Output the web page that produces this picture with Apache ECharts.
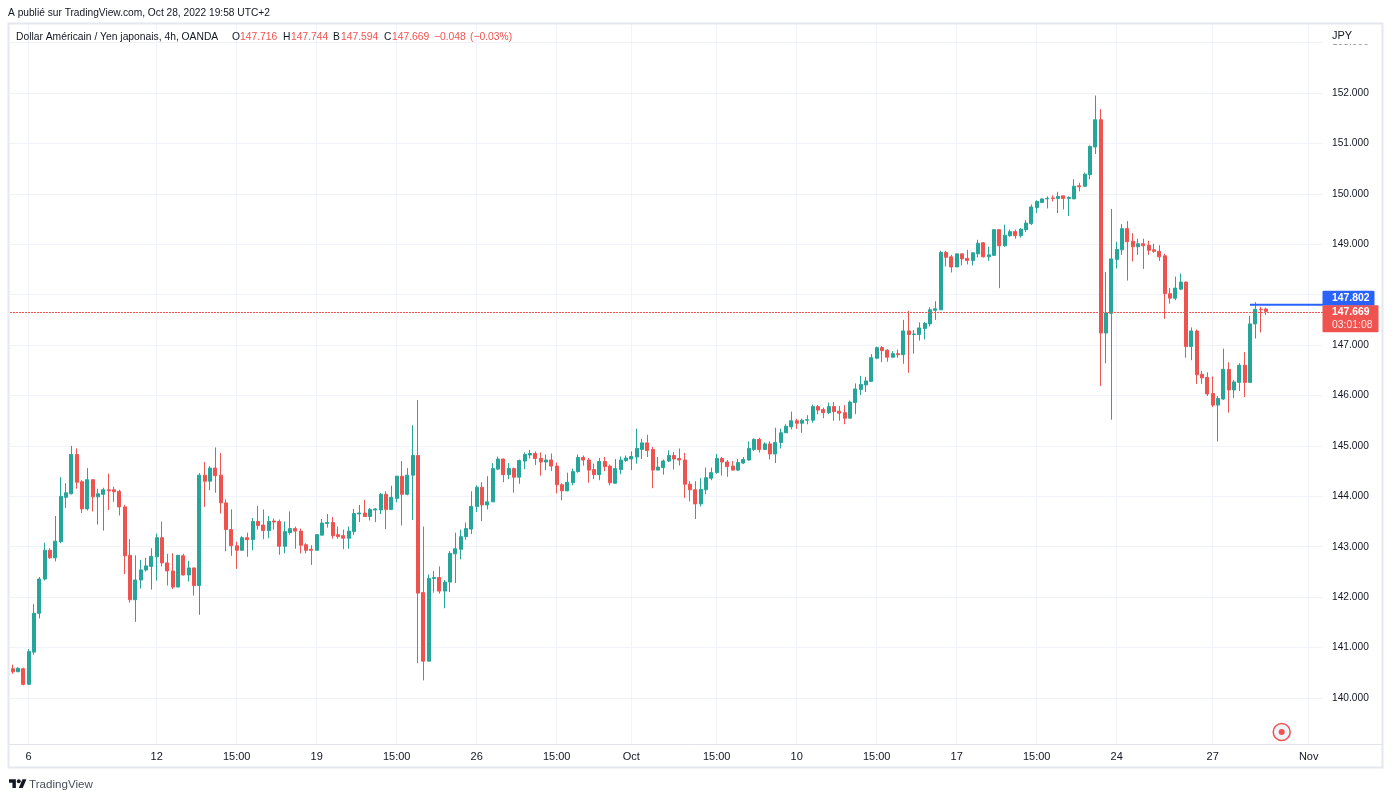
<!DOCTYPE html>
<html><head><meta charset="utf-8">
<style>html,body{margin:0;padding:0;background:#fff}#c{width:1392px;height:800px}</style>
<script src="https://cdn.jsdelivr.net/npm/echarts@6/dist/echarts.min.js"></script></head>
<body><div id="c"></div>
<script>
const opens=[140.58,140.52,140.58,140.27,140.91,141.68,142.36,142.93,142.78,143.10,
143.98,144.05,144.83,144.29,143.75,144.33,143.99,144.04,144.13,144.13,
144.10,143.79,142.83,141.95,142.34,142.54,142.61,142.80,143.18,142.68,
142.52,142.20,142.82,142.44,142.58,142.23,144.42,144.30,144.56,144.42,
143.87,143.34,143.02,142.93,143.18,143.14,143.50,143.43,143.32,143.51,
143.50,143.01,143.28,143.36,143.31,143.04,142.95,142.93,143.23,143.46,
143.48,143.24,143.22,143.17,143.30,143.65,143.67,143.60,143.73,143.73,
144.04,143.74,143.96,144.40,144.04,144.42,144.81,142.09,140.73,142.37,
142.39,142.12,142.30,142.86,142.95,143.20,143.35,143.80,144.18,143.83,
143.89,144.54,144.74,144.43,144.55,144.38,144.70,144.82,144.85,144.75,
144.68,144.72,144.60,144.23,144.11,144.27,144.49,144.77,144.72,144.53,
144.43,144.69,144.60,144.26,144.53,144.71,144.74,144.78,144.93,145.06,
144.93,144.52,144.57,144.70,144.81,144.75,144.72,144.24,144.13,143.85,
144.13,144.36,144.47,144.75,144.68,144.60,144.52,144.66,144.72,144.93,
145.13,144.93,145.04,144.84,145.07,145.26,145.38,145.50,145.45,145.51,
145.51,145.78,145.72,145.66,145.78,145.69,145.66,145.55,145.86,146.12,
146.21,146.28,146.74,146.95,146.90,146.76,146.83,146.81,147.28,147.21,
147.21,147.33,147.42,147.69,147.70,148.84,148.75,148.55,148.81,148.72,
148.68,148.81,149.03,148.75,148.78,149.29,148.97,149.17,149.25,149.17,
149.29,149.41,149.73,149.83,149.90,149.92,149.91,149.96,149.91,149.90,
150.16,150.15,150.38,150.93,151.47,147.24,147.63,148.70,148.89,149.31,
149.06,148.95,149.01,148.98,148.89,148.86,148.77,148.02,147.93,148.11,
148.25,146.97,147.28,146.42,146.36,146.04,145.81,145.93,146.52,146.11,
146.26,146.60,146.26,147.42,147.71,147.716];
const closes=[140.52,140.59,140.27,140.92,141.68,142.36,142.93,142.78,143.11,144.00,
144.07,144.83,144.28,143.75,144.33,143.99,144.05,144.13,144.11,144.09,
143.79,142.82,141.95,142.34,142.54,142.62,142.81,143.18,142.68,142.52,
142.20,142.83,142.44,142.58,142.23,144.42,144.30,144.56,144.41,143.87,
143.34,143.02,142.93,143.18,143.14,143.50,143.42,143.32,143.50,143.49,
143.01,143.30,143.36,143.31,143.03,142.93,142.93,143.24,143.47,143.48,
143.22,143.20,143.17,143.31,143.66,143.67,143.60,143.74,143.75,144.04,
143.74,143.98,144.40,144.04,144.42,144.81,142.08,140.73,142.37,142.39,
142.12,142.30,142.87,142.96,143.20,143.36,143.80,144.18,143.83,143.89,
144.55,144.74,144.43,144.55,144.38,144.71,144.83,144.85,144.75,144.68,
144.72,144.60,144.23,144.11,144.28,144.49,144.77,144.72,144.52,144.43,
144.69,144.59,144.27,144.55,144.72,144.76,144.79,144.95,145.06,144.91,
144.52,144.58,144.70,144.81,144.74,144.72,144.24,144.13,143.85,144.14,
144.37,144.47,144.75,144.68,144.59,144.52,144.67,144.73,144.95,145.13,
144.93,145.04,144.84,145.07,145.26,145.39,145.50,145.45,145.51,145.52,
145.78,145.71,145.66,145.78,145.68,145.65,145.55,145.87,146.13,146.22,
146.29,146.75,146.95,146.89,146.76,146.83,146.81,147.28,147.21,147.22,
147.34,147.43,147.70,147.72,148.84,148.74,148.55,148.81,148.71,148.68,
148.83,149.02,148.75,148.79,149.29,148.97,149.18,149.25,149.17,149.30,
149.42,149.74,149.85,149.90,149.91,149.91,149.95,149.91,149.93,150.15,
150.14,150.39,150.94,151.47,147.24,147.64,148.71,148.90,149.31,149.05,
148.95,149.01,148.97,148.88,148.86,148.75,148.02,147.93,148.13,148.25,
146.97,147.28,146.41,146.35,146.03,145.81,145.94,146.52,146.11,146.27,
146.60,146.26,147.42,147.71,147.70,147.669];
const lows=[140.48,140.52,140.25,140.27,140.86,141.58,142.33,142.76,142.71,143.07,
143.77,144.04,144.15,143.67,143.72,143.70,143.44,143.32,143.73,143.89,
143.62,142.46,141.89,141.51,142.17,142.51,142.15,142.33,142.61,142.23,
142.16,142.20,142.43,142.31,142.03,141.65,143.79,144.12,144.07,143.66,
142.91,142.82,142.56,142.93,142.80,142.93,143.34,143.15,143.17,143.34,
142.84,142.87,143.24,142.96,142.87,142.87,142.64,142.93,143.23,143.38,
143.16,143.16,142.95,142.96,143.23,143.49,143.60,143.52,143.49,143.65,
143.35,143.74,143.88,143.42,144.02,143.53,140.69,140.35,140.73,142.09,
142.07,141.78,142.10,142.28,142.75,143.14,143.25,143.69,143.51,143.74,
143.89,144.52,144.28,144.34,144.07,144.25,144.54,144.75,144.62,144.41,
144.52,144.50,144.06,143.92,144.10,144.22,144.47,144.61,144.27,144.34,
144.32,144.50,144.22,144.25,144.44,144.68,144.52,144.65,144.74,144.78,
144.16,144.52,144.43,144.68,144.53,144.61,143.97,143.90,143.55,143.80,
144.04,144.32,144.45,144.41,144.39,144.52,144.50,144.64,144.71,144.90,
144.87,144.92,144.73,144.66,144.95,145.26,145.33,145.34,145.26,145.43,
145.46,145.63,145.55,145.63,145.50,145.50,145.43,145.55,145.63,146.01,
146.07,146.28,146.72,146.66,146.67,146.75,146.75,146.63,146.45,146.83,
147.09,147.11,147.37,147.50,147.70,148.56,148.44,148.55,148.58,148.60,
148.58,148.74,148.74,148.67,148.78,148.13,148.95,149.15,149.11,149.13,
149.24,149.38,149.62,149.82,149.71,149.85,149.62,149.69,149.56,149.90,
150.05,150.14,150.29,150.79,146.19,146.64,145.52,148.52,148.79,148.28,
148.66,148.79,148.51,148.79,148.83,148.67,147.52,147.82,147.89,148.09,
146.75,146.70,146.23,146.23,145.99,145.77,145.09,145.91,145.66,145.95,
146.09,145.97,146.26,147.13,147.25,147.594];
const highs=[140.66,140.61,140.60,140.97,141.86,142.40,143.08,142.97,143.61,144.38,
144.26,145.00,144.95,144.32,144.56,144.33,144.15,144.17,144.45,144.19,
144.13,143.83,143.15,142.83,142.74,142.78,142.97,143.26,143.50,142.86,
142.87,142.84,142.86,142.72,142.58,144.46,144.68,144.60,144.97,144.86,
143.94,143.74,143.10,143.21,143.28,143.57,143.81,143.74,143.61,143.56,
143.54,143.50,143.70,143.40,143.36,143.07,143.03,143.25,143.55,143.65,
143.59,143.40,143.34,143.40,143.75,143.83,143.93,143.77,143.77,144.07,
144.10,144.21,144.40,144.70,144.56,145.41,145.91,143.40,142.45,142.52,
142.61,142.34,142.91,143.28,143.34,143.48,144.10,144.22,144.28,144.40,
144.66,144.79,144.75,144.66,144.57,144.73,144.87,144.92,144.89,144.87,
144.83,144.85,144.67,144.26,144.47,144.55,144.83,144.81,144.76,144.65,
144.76,144.78,144.63,144.74,144.79,144.81,144.89,145.34,145.14,145.22,
144.98,144.78,144.73,144.91,144.88,144.95,144.86,144.30,144.30,144.36,
144.57,144.57,144.84,144.78,144.72,144.70,144.74,144.78,145.09,145.15,
145.16,145.07,145.09,145.36,145.34,145.43,145.68,145.54,145.54,145.61,
145.82,145.81,145.76,145.86,145.87,145.79,145.81,145.90,146.24,146.39,
146.37,146.82,146.97,146.98,146.92,146.88,146.91,147.50,147.68,147.30,
147.45,147.46,147.75,147.87,148.87,148.87,148.79,148.81,148.81,148.89,
148.84,149.09,149.04,148.95,149.29,149.29,149.39,149.29,149.29,149.32,
149.48,149.79,149.87,149.91,149.95,149.97,150.04,149.96,149.95,150.29,
150.22,150.42,150.96,151.95,151.68,148.45,149.70,149.05,149.40,149.46,
149.22,149.11,149.11,149.07,149.01,148.98,148.81,148.13,148.36,148.42,
148.26,147.35,147.31,146.49,146.46,146.38,145.99,146.93,146.66,146.31,
146.64,146.86,147.58,147.85,147.76,147.744];
const barCount=246;
const tickBars=[3,27,42,57,72,87,102,116,132,147,162,177,192,207,225,243];
const tickLabels=['6','12','15:00','19','15:00','26','15:00','Oct','15:00','10','15:00','17','15:00','24','27','Nov'];
const lastPrice=147.669, bidLine=147.802, bidFromBar=232;
const legendParts=[['Dollar Américain / Yen japonais, 4h, OANDA',16,'#131722'],['O',232,'#131722'],['147.716',240,'#ef5350'],['H',283,'#131722'],['147.744',291,'#ef5350'],['B',333,'#131722'],['147.594',341,'#ef5350'],['C',384,'#131722'],['147.669',392,'#ef5350'],['\u22120.048',434,'#ef5350'],['(\u22120.03%)',470,'#ef5350']];

const FF='"Liberation Sans",Arial,sans-serif';
const categories=Array.from({length:barCount},(_,i)=>String(i));
const isTick=(i)=>tickBars.includes(i);
const candle=opens.map((o,i)=>[o,closes[i],lows[i],highs[i]]);
const gridL=10,gridW=1312;
const chart=echarts.init(document.getElementById('c'),null,{renderer:'canvas'});
const opt={
 animation:false,
 backgroundColor:'#ffffff',
 grid:[{left:gridL,top:24,width:gridW,height:720},{left:gridL,top:42.6,width:gridW,height:705.8}],
 xAxis:[
  {gridIndex:0,type:'category',data:categories,boundaryGap:true,axisLine:{show:false},
   axisTick:{show:false,alignWithLabel:true,interval:isTick},
   splitLine:{show:true,alignWithLabel:true,interval:isTick,lineStyle:{color:'#f0f3fa',width:1}},
   axisLabel:{show:true,interval:isTick,margin:7,color:'#131722',fontSize:11,fontFamily:FF,
     formatter:(v,i)=>tickLabels[tickBars.indexOf(Number(v))]||''}},
  {gridIndex:1,type:'category',data:categories,boundaryGap:true,show:false}
 ],
 yAxis:[
  {gridIndex:0,type:'value',min:0,max:1,show:false},
  {gridIndex:1,type:'value',position:'right',min:139,max:153,interval:1,scale:true,
   axisLine:{show:false},axisTick:{show:false},
   splitLine:{show:true,showMinLine:false,lineStyle:{color:'#f0f3fa',width:1}},
   axisLabel:{margin:10,color:'#131722',fontSize:10.2,fontFamily:FF,padding:[4,0,0,0],showMinLabel:false,formatter:v=>v.toFixed(3)}}
 ],
 series:[{type:'candlestick',xAxisIndex:1,yAxisIndex:1,data:candle,barWidth:3.4,
  itemStyle:{color:'#26a69a',color0:'#ef5350',borderColor:'#26a69a',borderColor0:'#ef5350',borderWidth:1}}]
};
chart.setOption(opt);
const yLast=chart.convertToPixel({yAxisIndex:1},lastPrice);
const yBid=chart.convertToPixel({yAxisIndex:1},bidLine);
const xBid=chart.convertToPixel({xAxisIndex:1},String(bidFromBar));
const yDot=Math.ceil(yLast)+0.5;
const txt=(t,x,y,fill,size,weight)=>({type:'text',z:120,silent:true,style:{text:t,x:x,y:y,fill:fill,font:(weight?weight+' ':'')+(size||11)+'px '+FF,verticalAlign:'middle'}});
const logoT=[[0,4],[14,4],[14,22],[7,22],[7,11],[0,11]].map(p=>[9+p[0]*.49,777.3+p[1]*.49]);
const logoV=[[28,22],[20,22],[27.5,4],[35.5,4]].map(p=>[9+p[0]*.49,777.3+p[1]*.49]);
const g=[
 {type:'rect',z:100,shape:{x:1323,y:25,width:58,height:19.5},style:{fill:'#fff'}},
 {type:'rect',z:100,shape:{x:1323,y:yBid-20,width:58,height:8},style:{fill:'#fff'}},
 {type:'rect',z:110,shape:{x:8.5,y:23.5,width:1374,height:744},style:{fill:'none',stroke:'#e6e8f0',lineWidth:2}},
 {type:'line',z:110,shape:{x1:9,y1:744.5,x2:1382,y2:744.5},style:{stroke:'#e0e3eb',lineWidth:1}},
 txt('JPY',1332,36,'#131722',11),
 txt('A publié sur TradingView.com, Oct 28, 2022 19:58 UTC+2',8,13,'#131722',10.2),
 {type:'line',z:105,shape:{x1:10,y1:yDot,x2:1323,y2:yDot},style:{stroke:'#ef5350',lineWidth:1,lineDash:[2,1]}},
 {type:'line',z:115,shape:{x1:xBid,y1:yBid,x2:1323,y2:yBid},style:{stroke:'#2962ff',lineWidth:2}},
 {type:'rect',z:116,shape:{x:1322.5,y:yBid-14,width:52,height:15,r:1},style:{fill:'#2962ff'}},
 txt(bidLine.toFixed(3),1332,yBid-6.5,'#ffffff',10.4,'bold'),
 {type:'rect',z:116,shape:{x:1322.5,y:yLast-6,width:56,height:27,r:1},style:{fill:'#ef5350'}},
 txt(lastPrice.toFixed(3),1332,yLast+1,'#ffffff',10.4,'bold'),
 txt('03:01:08',1332,yLast+14,'#fde3e2',10.4),
 {type:'circle',z:118,shape:{cx:1281.7,cy:732,r:8.5},style:{fill:'#f0f3fa',stroke:'#ef5350',lineWidth:1.5}},
 {type:'circle',z:119,shape:{cx:1281.7,cy:732,r:3},style:{fill:'#ef5350'}},
 {type:'polygon',z:120,shape:{points:logoT},style:{fill:'#131722'}},
 {type:'polygon',z:120,shape:{points:logoV},style:{fill:'#131722'}},
 {type:'circle',z:120,shape:{cx:18.8,cy:781.2,r:1.95},style:{fill:'#131722'}},
 txt('TradingView',29,785,'#4a4e59',11.6)
];
legendParts.forEach(p=>g.push(txt(p[0],p[1],37,p[2],10.3)));
chart.setOption({graphic:{elements:g}});
</script></body></html>
